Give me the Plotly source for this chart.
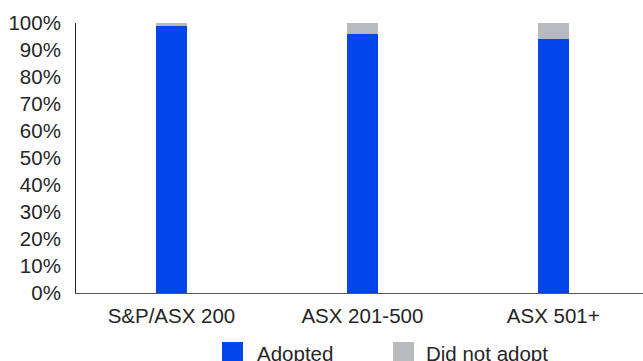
import plotly.graph_objects as go

# Share of companies by index band
categories = ["S&P/ASX 200", "ASX 201-500", "ASX 501+"]
adopted = [99, 96, 94]
did_not_adopt = [1, 4, 6]
series_names = ["Adopted", "Did not adopt"]
y_ticks = list(range(0, 101, 10))
y_tick_labels = [f"{v}%" for v in y_ticks]

BLUE = "#0046EA"
GREY = "#B8BBBE"
FONT = "Liberation Sans"
TEXT = "#262626"
FS = 20.5

fig = go.Figure()
fig.add_trace(go.Bar(x=categories, y=adopted, name=series_names[0],
                     marker=dict(color=BLUE, line=dict(width=0)), width=0.163))
fig.add_trace(go.Bar(x=categories, y=did_not_adopt, name=series_names[1],
                     marker=dict(color=GREY, line=dict(width=0)), width=0.163))

W, H = 643, 361
L, R, T, B = 76, 0, 23, 68

fig.update_layout(
    width=W, height=H,
    barmode="stack",
    showlegend=False,
    plot_bgcolor="white", paper_bgcolor="white",
    margin=dict(l=L, r=R, t=T, b=B, autoexpand=False),
    font=dict(family=FONT, color=TEXT, size=FS),
    xaxis=dict(range=[-0.5, 2.47], showline=True, linecolor="#555555", linewidth=1,
               ticks="", showgrid=False, tickfont=dict(size=FS, color=TEXT),
               ticklabelstandoff=4),
    yaxis=dict(range=[0, 100], tickmode="array", tickvals=y_ticks,
               ticktext=y_tick_labels, showgrid=False,
               zeroline=False, showline=True, linecolor="#222222", linewidth=1,
               ticks="", tickfont=dict(size=FS, color=TEXT), ticklabelstandoff=10),
)

# Legend drawn as squares with labels below the axis
plot_w = W - L - R
plot_h = H - T - B


def px_x(px):
    return (px - L) / plot_w


def px_y(py):
    return (H - B - py) / plot_h


legend_items = [(series_names[0], BLUE, 222, 255), (series_names[1], GREY, 393, 424)]
for name, color, sx, tx in legend_items:
    fig.add_shape(type="rect", xref="paper", yref="paper",
                  x0=px_x(sx), x1=px_x(sx + 21), y0=px_y(342), y1=px_y(364),
                  fillcolor=color, line=dict(width=0))
    fig.add_annotation(xref="paper", yref="paper", x=px_x(tx), y=px_y(353),
                       text=name, showarrow=False, xanchor="left", yanchor="middle",
                       font=dict(family=FONT, size=FS, color=TEXT))

fig.write_html("out.html")
